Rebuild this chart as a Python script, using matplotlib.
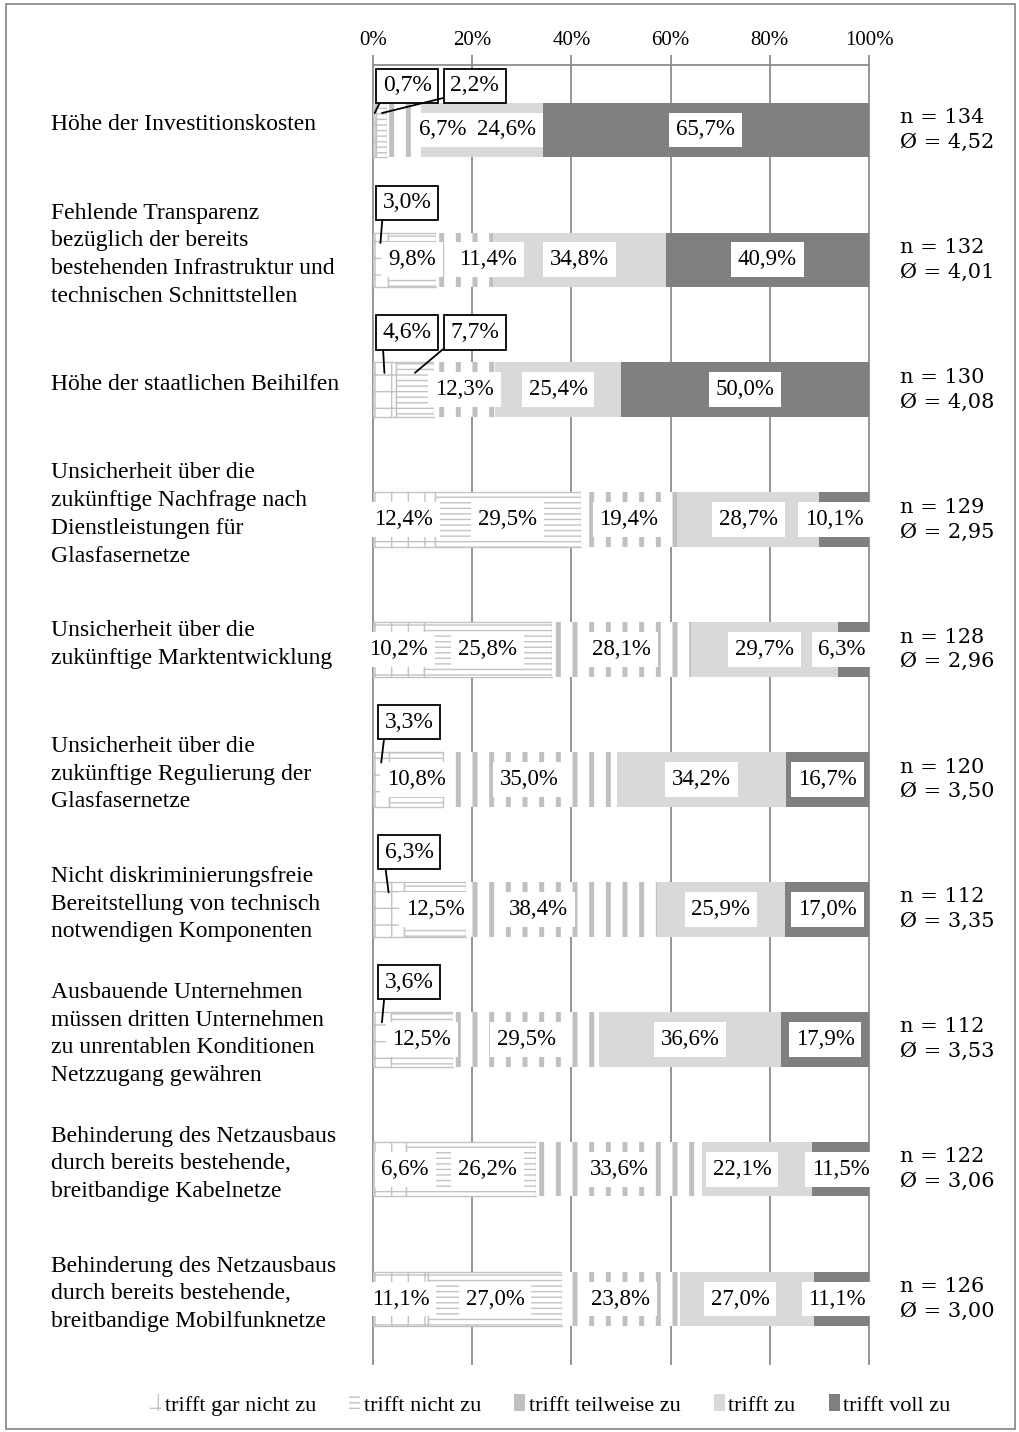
import matplotlib
matplotlib.use("Agg")
import matplotlib.pyplot as plt
from matplotlib.patches import Patch, Rectangle
from matplotlib.transforms import blended_transform_factory
import numpy as np

plt.rcParams['font.family'] = ['Liberation Serif', 'DejaVu Serif']

categories = [
    "Höhe der Investitionskosten",
    "Fehlende Transparenz\nbezüglich der bereits\nbestehenden Infrastruktur und\ntechnischen Schnittstellen",
    "Höhe der staatlichen Beihilfen",
    "Unsicherheit über die\nzukünftige Nachfrage nach\nDienstleistungen für\nGlasfasernetze",
    "Unsicherheit über die\nzukünftige Marktentwicklung",
    "Unsicherheit über die\nzukünftige Regulierung der\nGlasfasernetze",
    "Nicht diskriminierungsfreie\nBereitstellung von technisch\nnotwendigen Komponenten",
    "Ausbauende Unternehmen\nmüssen dritten Unternehmen\nzu unrentablen Konditionen\nNetzzugang gewähren",
    "Behinderung des Netzausbaus\ndurch bereits bestehende,\nbreitbandige Kabelnetze",
    "Behinderung des Netzausbaus\ndurch bereits bestehende,\nbreitbandige Mobilfunknetze",
]
series_names = ["trifft gar nicht zu", "trifft nicht zu", "trifft teilweise zu",
                "trifft zu", "trifft voll zu"]
gar_nicht = [0.7, 3.0, 4.6, 12.4, 10.2, 3.3, 6.3, 3.6, 6.6, 11.1]
nicht = [2.2, 9.8, 7.7, 29.5, 25.8, 10.8, 12.5, 12.5, 26.2, 27.0]
teilweise = [6.7, 11.4, 12.3, 19.4, 28.1, 35.0, 38.4, 29.5, 33.6, 23.8]
zu = [24.6, 34.8, 25.4, 28.7, 29.7, 34.2, 25.9, 36.6, 22.1, 27.0]
voll = [65.7, 40.9, 50.0, 10.1, 6.3, 16.7, 17.0, 17.9, 11.5, 11.1]
n_values = [134, 132, 130, 129, 128, 120, 112, 112, 122, 126]
mean_values = ["4,52", "4,01", "4,08", "2,95", "2,96", "3,50", "3,35", "3,53", "3,06", "3,00"]
x_ticks = [0, 20, 40, 60, 80, 100]

# labels shown as callouts above the bar: (row, series index) -> label x
callouts = {(0, 0): 6.9, (0, 1): 20.5, (1, 0): 6.9, (2, 0): 6.9, (2, 1): 20.5,
            (5, 0): 7.3, (6, 0): 7.3, (7, 0): 7.3}
# label positions adjusted (as Excel does) to avoid overlap
label_x = {(0, 2): 14.1, (0, 3): 27.0, (1, 2): 23.2, (8, 0): 6.5, (8, 1): 23.1,
           (8, 3): 74.4, (3, 4): 93.0, (4, 4): 94.6, (9, 4): 93.6, (9, 3): 74.0,
           (6, 2): 33.4}

data = np.array([gar_nicht, nicht, teilweise, zu, voll])

styles = [
    dict(color='white', edgecolor='#c3c3c3', hatch='+', linewidth=1.0, hlw=1.0),
    dict(color='white', edgecolor='#c3c3c3', hatch='---', linewidth=1.0, hlw=1.0),
    dict(color='white', edgecolor='#c0c0c0', hatch='|', linewidth=0.0, hlw=3.6),
    dict(color='#d9d9d9', edgecolor='#d9d9d9', hatch=None, linewidth=0.0, hlw=1.0),
    dict(color='#808080', edgecolor='#808080', hatch=None, linewidth=0.0, hlw=1.0),
]

W, H = 1019, 1432
fig = plt.figure(figsize=(W / 100, H / 100), dpi=100)
ax = fig.add_axes([373 / W, 1 - 1364 / H, (869 - 373) / W, (1364 - 65) / H])

ypos = np.arange(len(categories))
left = np.zeros(len(categories))
for k in range(5):
    st = styles[k]
    for i in ypos:
        with plt.rc_context({'hatch.linewidth': st['hlw'], 'hatch.color': st['edgecolor']}):
            bars = ax.barh(i, data[k][i], left=left[i], height=0.42,
                           color=st['color'], edgecolor=st['edgecolor'],
                           hatch=st['hatch'], linewidth=st['linewidth'], zorder=2)
            for b in bars:
                try:
                    b.set_hatch_linewidth(st['hlw'])
                except AttributeError:
                    pass
    left += data[k]

# data labels
starts = np.vstack([np.zeros(len(categories)), np.cumsum(data, axis=0)[:-1]])
for i in ypos:
    for k in range(5):
        v = data[k][i]
        txt = f"{v:.1f}%".replace('.', ',')
        center = starts[k][i] + v / 2
        if (i, k) in callouts:
            ty = i - 0.34 if i == 0 else i - 0.44
            ax.annotate(txt, xy=(center, i - 0.13), xytext=(callouts[(i, k)], ty),
                        ha='center', va='center', fontsize=17, zorder=6,
                        bbox=dict(boxstyle='square,pad=0.28', fc='white', ec='black', lw=1.3),
                        arrowprops=dict(arrowstyle='-', color='black', lw=1.3,
                                        relpos=(0, 0), shrinkA=0, shrinkB=0))
        else:
            x = label_x.get((i, k), center)
            ax.text(x, i, txt, ha='center', va='center', fontsize=16.5, zorder=5,
                    bbox=dict(boxstyle='square,pad=0.3', fc='white', ec='none'))

# grid lines
for x in x_ticks:
    ax.axvline(x, color='#8c8c8c', lw=1.3, zorder=1, clip_on=False)

ax.set_xlim(0, 100)
ax.set_ylim(len(categories) - 0.5, -0.5)
ax.xaxis.tick_top()
ax.set_xticks(x_ticks)
ax.set_xticklabels([f"{t}%" for t in x_ticks], fontsize=15)
ax.tick_params(axis='x', direction='out', length=7, color='#8c8c8c', width=1.3, pad=4)
ax.set_yticks([])
for s in ['left', 'right', 'bottom']:
    ax.spines[s].set_visible(False)
ax.spines['top'].set_color('#8c8c8c')
ax.spines['top'].set_linewidth(1.3)

# category labels and n / mean
trans = blended_transform_factory(fig.transFigure, ax.transData)
for i, cat in enumerate(categories):
    ax.text(51 / W, i - 0.04, cat, transform=trans, ha='left', va='center',
            fontsize=17, linespacing=1.42)
    ax.text(900 / W, i, f"n = {n_values[i]}\nØ = {mean_values[i]}", transform=trans,
            ha='left', va='center', fontsize=15, linespacing=1.38,
            family=['DejaVu Serif'])

# legend
legend_fc = ['white', 'white', '#c0c0c0', '#d9d9d9', '#808080']
handles = []
for k in range(5):
    st = styles[k]
    hatch = st['hatch'] if k < 2 else None
    handles.append(Patch(facecolor=legend_fc[k], edgecolor=st['edgecolor'],
                         hatch=hatch, linewidth=0, label=series_names[k]))
fig.legend(handles=handles, loc='center', bbox_to_anchor=(0.54, 1 - 1405 / H), ncol=5,
           frameon=False, fontsize=16, handlelength=0.5, handleheight=0.8,
           handletextpad=0.15, columnspacing=1.5)

# outer border
fig.patches.append(Rectangle((6 / W, 3 / H), 1009 / W, 1425 / H, transform=fig.transFigure,
                             fill=False, edgecolor='#8c8c8c', lw=1.3))

fig.savefig("out.png", dpi=100)
